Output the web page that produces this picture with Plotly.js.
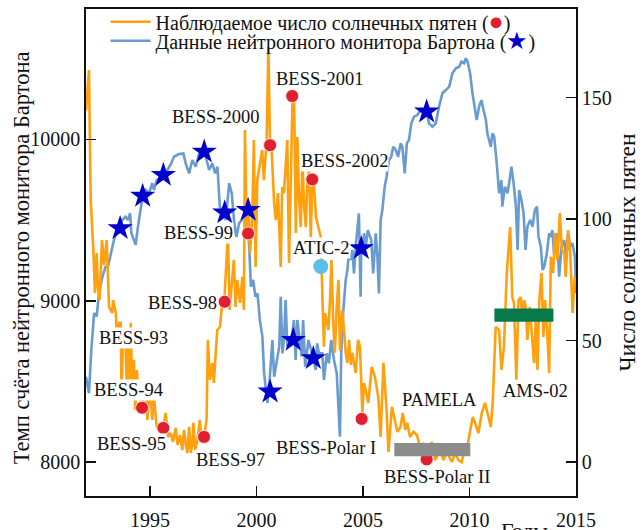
<!DOCTYPE html>
<html>
<head>
<meta charset="utf-8">
<script src="https://cdn.plot.ly/plotly-3.0.1.min.js"></script>
<style>html,body{margin:0;padding:0;background:#fff;}#chart{width:643px;height:530px;}</style>
</head>
<body>
<div id="chart"></div>
<script>
// ---- Sunspot number (right axis) ----
const ssnYears = [1992.00,1992.14,1992.22,1992.34,1992.42,1992.50,1992.56,1992.64,1992.75,1992.85,1992.97,1993.03,1993.08,1993.23,1993.27,1993.40,1993.45,1993.56,1993.63,1993.67,1993.74,1993.85,1993.91,1993.97,1994.03,1994.10,1994.17,1994.25,1994.31,1994.39,1994.47,1994.57,1994.63,1994.72,1994.80,1994.88,1994.96,1995.04,1995.11,1995.19,1995.32,1995.43,1995.53,1995.63,1995.74,1995.85,1995.98,1996.08,1996.21,1996.30,1996.41,1996.52,1996.60,1996.69,1996.76,1996.84,1996.92,1996.99,1997.04,1997.12,1997.23,1997.34,1997.42,1997.50,1997.54,1997.66,1997.72,1997.82,1997.93,1998.00,1998.08,1998.16,1998.29,1998.40,1998.48,1998.60,1998.66,1998.74,1998.87,1998.94,1999.02,1999.10,1999.23,1999.34,1999.41,1999.46,1999.54,1999.62,1999.70,1999.80,1999.88,1999.96,2000.04,2000.17,2000.27,2000.35,2000.48,2000.56,2000.64,2000.70,2000.83,2000.91,2001.01,2001.14,2001.21,2001.29,2001.37,2001.45,2001.53,2001.61,2001.69,2001.77,2001.85,2001.92,2002.00,2002.08,2002.16,2002.24,2002.32,2002.39,2002.47,2002.55,2002.63,2002.71,2002.79,2002.86,2002.94,2003.02,2003.10,2003.17,2003.22,2003.30,2003.38,2003.46,2003.52,2003.60,2003.68,2003.77,2003.85,2003.92,2004.03,2004.11,2004.19,2004.27,2004.35,2004.43,2004.50,2004.58,2004.66,2004.77,2004.86,2004.97,2005.05,2005.13,2005.25,2005.41,2005.56,2005.72,2005.83,2005.96,2006.10,2006.20,2006.36,2006.52,2006.63,2006.76,2006.87,2006.98,2007.08,2007.21,2007.37,2007.53,2007.68,2007.84,2008.00,2008.23,2008.39,2008.62,2008.78,2008.94,2009.17,2009.33,2009.48,2009.64,2009.71,2009.87,2010.03,2010.15,2010.26,2010.42,2010.58,2010.73,2010.89,2011.00,2011.09,2011.23,2011.39,2011.50,2011.62,2011.75,2011.91,2012.01,2012.09,2012.20,2012.30,2012.41,2012.48,2012.56,2012.64,2012.72,2012.83,2012.95,2013.03,2013.11,2013.19,2013.27,2013.38,2013.47,2013.55,2013.66,2013.74,2013.82,2013.93,2014.01,2014.13,2014.24,2014.34,2014.45,2014.52,2014.63,2014.73,2014.84,2014.94,2015.00];
const ssnValues = [144.8,161.3,107.8,88.5,69.6,86.0,72.1,66.7,91.4,81.1,91.4,72.1,63.9,61.4,66.7,61.4,51.5,57.3,57.3,25.6,54.2,50.1,32.6,54.2,31.0,57.3,28.5,42.1,21.5,37.9,25.6,28.5,23.1,27.7,31.8,17.4,25.6,26.8,17.4,26.8,14.5,13.3,16.2,14.1,20.3,10.4,12.0,8.3,14.1,7.1,11.2,5.0,13.3,7.1,3.8,14.5,3.8,7.9,16.2,5.0,9.2,17.4,9.2,12.5,10.4,17.4,50.3,33.9,40.8,32.6,45.0,54.4,55.6,66.7,63.9,83.2,94.3,62.6,75.0,83.2,63.9,75.0,65.5,76.2,62.6,136.6,96.7,106.6,86.0,99.6,132.5,80.3,116.0,124.2,128.4,116.0,132.5,170.8,129.6,131.2,106.6,99.6,110.7,80.3,113.2,110.7,124.2,132.5,81.9,113.2,147.7,148.9,94.3,133.7,109.0,96.7,124.2,104.9,96.7,116.0,120.2,92.6,116.0,113.2,100.9,98.4,95.5,92.6,66.7,47.5,61.4,58.5,54.4,68.0,83.2,58.5,45.0,63.9,75.0,46.2,62.6,54.4,45.0,40.8,50.3,40.0,45.0,40.8,36.7,50.3,47.5,20.3,32.6,29.7,24.4,39.2,35.1,26.8,10.4,40.9,22.8,4.2,22.8,16.2,12.5,14.5,20.3,13.3,16.2,10.4,12.5,11.2,6.3,7.9,2.2,8.3,0.9,5.0,0.9,4.2,0.1,3.8,0.9,0.0,3.0,5.0,13.3,18.6,16.2,12.0,20.3,24.4,18.6,14.5,24.4,55.6,54.4,38.0,47.5,77.8,96.7,67.9,65.5,33.9,66.7,67.9,58.5,66.7,63.9,50.3,63.9,50.3,40.8,58.5,38.0,65.5,77.8,51.5,66.7,51.5,36.7,84.5,77.8,94.3,83.2,102.5,87.3,86.0,76.2,95.5,86.0,61.4,76.2,73.7];

// ---- Barton neutron monitor count rate (left axis) ----
const nmYears = [1992.00,1992.14,1992.25,1992.38,1992.50,1992.61,1992.77,1992.92,1993.03,1993.16,1993.31,1993.47,1993.60,1993.70,1993.86,1993.97,1994.07,1994.13,1994.25,1994.33,1994.44,1994.57,1994.66,1994.80,1994.96,1995.11,1995.19,1995.32,1995.47,1995.63,1995.82,1996.00,1996.13,1996.36,1996.57,1996.68,1996.84,1996.99,1997.15,1997.31,1997.46,1997.62,1997.78,1997.93,1998.06,1998.17,1998.28,1998.44,1998.56,1998.72,1998.84,1998.96,1999.06,1999.19,1999.31,1999.54,1999.66,1999.74,1999.85,1999.95,2000.05,2000.16,2000.28,2000.36,2000.52,2000.56,2000.62,2000.75,2000.83,2000.94,2001.07,2001.14,2001.22,2001.30,2001.37,2001.45,2001.65,2001.76,2001.84,2001.92,2002.03,2002.13,2002.19,2002.29,2002.44,2002.67,2002.78,2002.85,2002.93,2003.09,2003.17,2003.30,2003.40,2003.51,2003.64,2003.77,2003.84,2003.92,2003.98,2004.08,2004.19,2004.27,2004.34,2004.42,2004.50,2004.58,2004.66,2004.81,2004.89,2004.92,2004.97,2005.05,2005.13,2005.23,2005.33,2005.39,2005.48,2005.60,2005.67,2005.75,2005.83,2005.91,2006.02,2006.11,2006.22,2006.33,2006.42,2006.54,2006.65,2006.77,2006.85,2006.96,2007.06,2007.16,2007.27,2007.40,2007.55,2007.71,2007.99,2008.10,2008.26,2008.42,2008.57,2008.73,2008.89,2009.05,2009.20,2009.36,2009.52,2009.62,2009.75,2009.83,2009.91,2010.03,2010.14,2010.22,2010.34,2010.45,2010.56,2010.66,2010.77,2010.84,2011.00,2011.08,2011.16,2011.28,2011.39,2011.50,2011.54,2011.66,2011.78,2011.86,2011.97,2012.07,2012.18,2012.26,2012.33,2012.44,2012.54,2012.63,2012.72,2012.85,2012.96,2013.07,2013.17,2013.24,2013.35,2013.43,2013.51,2013.63,2013.74,2013.82,2013.89,2013.97,2014.10,2014.21,2014.32,2014.44,2014.52,2014.63,2014.73,2014.83,2014.95,2015.00];
const nmValues = [8530,8427,8695,8924,8902,9048,9149,9211,9211,9296,9376,9438,9449,9500,9521,9500,9542,9418,9366,9346,9459,9583,9649,9686,9666,9728,9686,9748,9760,9779,9810,9851,9892,9909,9913,9851,9789,9872,9830,9913,9923,9892,9810,9851,9789,9830,9583,9546,9500,9728,9666,9480,9397,9480,9500,9562,9335,9087,9129,9025,9046,8881,8778,8551,8367,8437,8510,8757,8530,8613,8716,9025,8675,8778,9005,8716,8757,8881,8633,8881,8757,8654,8881,8592,8757,8644,8572,8737,8675,8675,8510,8675,8613,8757,8633,8551,8365,8159,8675,8943,9129,9191,9294,9253,9315,9170,9335,9542,9025,9325,9294,9418,9335,9438,9397,9376,9170,9418,9294,9046,9500,9562,9707,9768,9872,9892,9954,9934,9892,9975,9954,9789,9975,9996,10099,10140,10150,10181,10171,10099,10078,10099,10202,10285,10305,10326,10409,10440,10450,10481,10471,10502,10481,10409,10285,10223,10120,10202,10243,10181,10120,10037,9954,10037,10016,9851,9666,9748,9583,9707,9666,9728,9830,9728,9583,9315,9686,9624,9542,9315,9459,9500,9459,9562,9583,9397,9335,9191,9211,9294,9418,9397,9438,9294,9418,9149,9335,9376,9294,9418,9335,9356,9273,9046];

// ---- Experiments ----
const bessNames = ["BESS-93","BESS-94","BESS-95","BESS-97","BESS-98","BESS-99","BESS-2000","BESS-2001","BESS-2002","BESS-Polar I","BESS-Polar II"];
const bessYears = [1993.64,1994.63,1995.63,1997.54,1998.51,1999.61,2000.64,2001.68,2002.62,2004.94,2007.99];
const bessSsn   = [30.5,22.4,14.1,10.4,66.0,94.1,130.4,150.6,116.3,17.8,1.2];
const starYears = [1993.60,1994.66,1995.63,1997.55,1998.51,1999.61,2000.64,2001.73,2002.67,2004.92,2007.99];
const starNm    = [9449,9649,9779,9923,9546,9562,8437,8757,8644,9325,10171];
const aticName = "ATIC-2", aticYear = [2003.02], aticSsn = [80.5];
const pamelaName = "PAMELA", pamelaYears = [2006.47, 2010.04], pamelaSsn = 5.2;
const amsName = "AMS-02", amsYears = [2011.17, 2013.94], amsSsn = 60.5;

const xTicks = [1995, 2000, 2005, 2010, 2015];
const yTicks = [8000, 9000, 10000];
const y2Ticks = [0, 50, 100, 150];
const xTitle = "Годы";
const yTitle = "Темп счёта нейтронного монитора Бартона";
const y2Title = "Число солнечных пятен";

// ---- styling / label offsets (px, relative to the marker) ----
const bessLabelShift = [[13,50],[-14,17.5],[-32,-16],[26.5,-23],[-42,-1],[-50,0],[-54.5,28],[27.4,17],[32.4,18.6],[-36,-29],[10,-17.4]];
const FONT = "Liberation Serif, Times New Roman, serif";
const ORANGE = "#ffa00f", BLUE = "#6a9bd0", RED = "#e0202e", STAR = "#0000cc";
const BAR_HALF = 2.7; // half thickness of the period bars, in right-axis units
const Y2_RANGE = [-13.9, 186.4], Y_RANGE = [7791, 10807];

// period bars as shapes in right-axis data coordinates, drawn above the curves
function bandShape(years, level, color) {
  return {type: "rect", xref: "x", yref: "y2", layer: "above",
          x0: years[0], x1: years[1], y0: level - BAR_HALF, y1: level + BAR_HALF,
          fillcolor: color, line: {width: 0}};
}

const traces = [
  {x: nmYears, y: nmValues, yaxis: "y", type: "scatter", mode: "lines",
   line: {color: BLUE, width: 2.6}, name: 'Данные нейтронного монитора Бартона (<span style="color:#0000cc;font-size:24px">★</span>)',
   legend: "legend2"},
  {x: ssnYears, y: ssnValues, yaxis: "y2", type: "scatter", mode: "lines",
   line: {color: ORANGE, width: 2.6}, name: 'Наблюдаемое число солнечных пятен (<span style="color:#e0202e;font-size:25px">●</span>)',
   legend: "legend"},
  {x: starYears, y: starNm, yaxis: "y3", type: "scatter", mode: "markers",
   marker: {color: STAR, size: 19, symbol: "star"}, showlegend: false},
  {x: bessYears, y: bessSsn, yaxis: "y4", type: "scatter", mode: "markers", text: bessNames,
   marker: {color: RED, size: 13, line: {color: "rgba(255,235,235,0.9)", width: 1}}, showlegend: false},
  {x: aticYear, y: aticSsn, yaxis: "y4", type: "scatter", mode: "markers", text: [aticName],
   marker: {color: "#5bbfea", size: 15}, showlegend: false}
];

const annotations = bessNames.map((n, i) => ({
  x: bessYears[i], y: bessSsn[i], xref: "x", yref: "y2", text: n, showarrow: false,
  xshift: bessLabelShift[i][0], yshift: bessLabelShift[i][1], bgcolor: "white", borderpad: 0,
  font: {family: FONT, size: 18.5, color: "#111"}
}));
annotations.push({x: aticYear[0], y: aticSsn[0], xref: "x", yref: "y2", text: aticName, showarrow: false,
  xshift: 0.7, yshift: 18.5, bgcolor: "white", borderpad: 0, font: {family: FONT, size: 18.5, color: "#111"}});
annotations.push({x: (pamelaYears[0] + pamelaYears[1]) / 2, y: pamelaSsn, xref: "x", yref: "y2", text: pamelaName, showarrow: false,
  xshift: 6.7, yshift: 49.7, font: {family: FONT, size: 18.5, color: "#111"}});
annotations.push({x: (amsYears[0] + amsYears[1]) / 2, y: amsSsn, xref: "x", yref: "y2", text: amsName, showarrow: false,
  xshift: 11.7, yshift: -76, font: {family: FONT, size: 18.5, color: "#111"}});
// x-axis title (placed at lower right, partly cut by the bottom edge as in the original)
annotations.push({x: 0.895, y: -0.042, xref: "paper", yref: "paper", xanchor: "center", yanchor: "top", text: xTitle, showarrow: false,
  font: {family: FONT, size: 22, color: "#111"}});
// left y-axis title
annotations.push({x: -0.1327, y: 0.49, xref: "paper", yref: "paper", xanchor: "center", yanchor: "middle", textangle: -90,
  text: yTitle, showarrow: false, font: {family: FONT, size: 22.5, color: "#111"}});

const axisCommon = {showgrid: false, zeroline: false, showline: true, linecolor: "#111", linewidth: 1.8,
  ticks: "inside", ticklen: 10, tickwidth: 1.6, tickcolor: "#111", tickfont: {family: FONT, size: 20, color: "#111"}};

const layout = {
  width: 643, height: 530,
  margin: {l: 86, r: 67, t: 9, b: 34, pad: 0, autoexpand: false},
  paper_bgcolor: "#fff", plot_bgcolor: "#fff",
  font: {family: FONT, color: "#111"},
  xaxis: Object.assign({}, axisCommon, {range: [1992, 2015], tickvals: xTicks, mirror: true, ticklabelstandoff: 5, automargin: false}),
  yaxis: Object.assign({}, axisCommon, {range: Y_RANGE, tickvals: yTicks, tickformat: "d", ticklabelstandoff: 0, automargin: false}),
  yaxis2: Object.assign({}, axisCommon, {range: Y2_RANGE, tickvals: y2Ticks, overlaying: "y", side: "right", ticklabelstandoff: 0, automargin: false,
    title: {text: y2Title, font: {family: FONT, size: 23.5, color: "#111"}, standoff: 8}}),
  yaxis3: {range: Y_RANGE, overlaying: "y", visible: false, showgrid: false, zeroline: false},
  yaxis4: {range: Y2_RANGE, overlaying: "y", side: "right", visible: false, showgrid: false, zeroline: false},
  shapes: [bandShape(pamelaYears, pamelaSsn, "#8c8c8c"), bandShape(amsYears, amsSsn, "#087a4a")],
  legend: {x: 0.04, y: 1.0138, xanchor: "left", yanchor: "top", bgcolor: "rgba(0,0,0,0)", borderwidth: 0,
    font: {family: FONT, size: 20, color: "#111"}, itemwidth: 40},
  legend2: {x: 0.04, y: 0.9747, xanchor: "left", yanchor: "top", bgcolor: "rgba(0,0,0,0)", borderwidth: 0,
    font: {family: FONT, size: 20, color: "#111"}, itemwidth: 40},
  annotations: annotations,
  showlegend: true
};

Plotly.newPlot("chart", traces, layout, {displayModeBar: false, staticPlot: true});
</script>
</body>
</html>
